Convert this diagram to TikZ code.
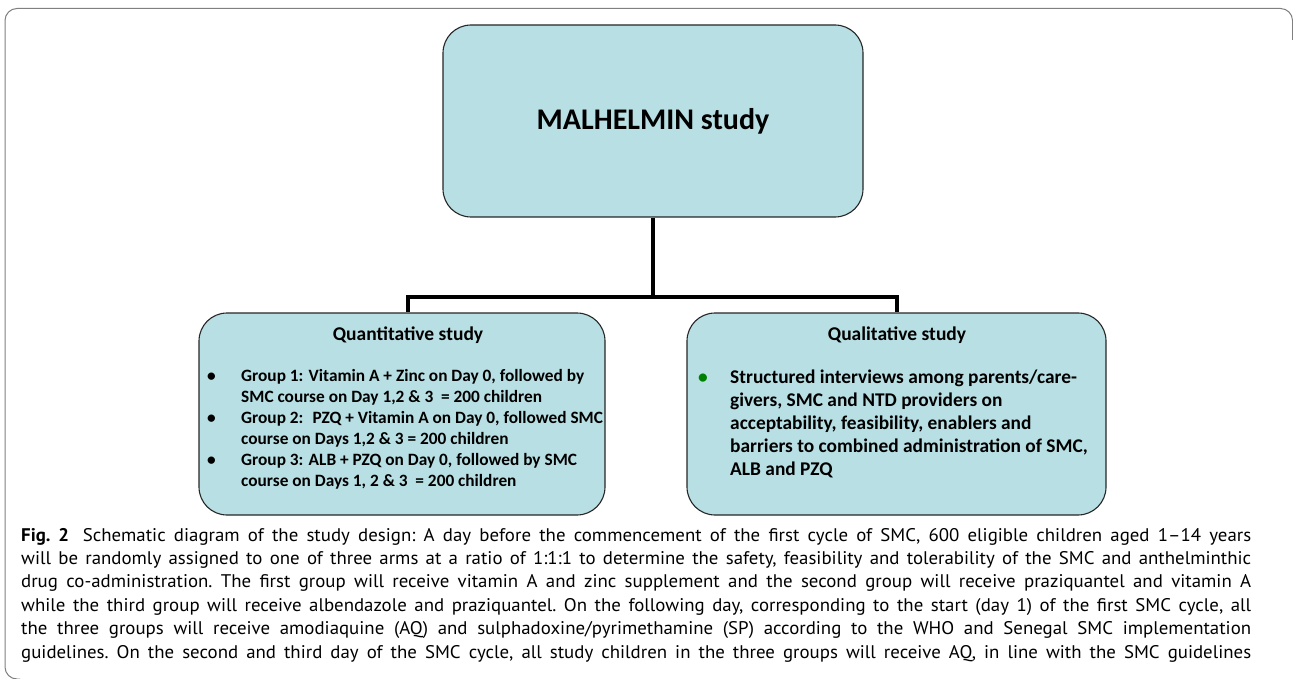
\documentclass[tikz,border=0pt]{standalone}
\usepackage{fontspec}
\setmainfont{Carlito}
\newfontfamily\capfont[FakeStretch=1.03]{PT Sans}
\usetikzlibrary{calc}
\definecolor{boxfill}{RGB}{184,223,227}
\definecolor{framecol}{RGB}{128,128,128}
\definecolor{bulgreen}{RGB}{0,128,0}
\newcommand{\capline}[1]{\makebox[1230pt][s]{#1}\par}
\tikzset{
  box/.style={draw=black!85, line width=1.1pt, fill=boxfill, rounded corners=28pt, inner sep=0pt},
  conn/.style={draw=black, line width=4pt},
  listtext/.style={anchor=base west, inner sep=0pt, font=\bfseries},
  head/.style={inner sep=0pt, font=\bfseries\fontsize{19.5}{22}\selectfont},
}
\begin{document}
\begin{tikzpicture}[x=1pt,y=-1pt]
\useasboundingbox (0,0) rectangle (1293,679);
% frame
\draw[framecol, line width=1pt, rounded corners=12pt] (20,679) -| (5,8.5) -| (1292.5,40);
% boxes
\node[box, minimum width=420pt, minimum height=192pt, font=\bfseries\fontsize{30}{34}\selectfont] (top) at (653,121) {MALHELMIN study};
\node[box, minimum width=406pt, minimum height=202pt] (left) at (402,414) {};
\node[box, minimum width=419pt, minimum height=202pt] (right) at (896.5,414) {};
% connectors
\coordinate (j) at (653,296.5);
\draw[conn] (top.south) -- (j);
\draw[conn] ([xshift=6pt]left.north) |- (j) -| (right.north);
% headers
\node[head] (hq) at (408,335) {Quantitative study};
\node[head] (hl) at (897,335) {Qualitative study};
% left list
\node[listtext] (ql) at (207,381) {\fontsize{17.3}{21}\selectfont
\begin{tabular}[t]{@{}p{34pt}@{}l@{}}
\textbullet & Group 1: Vitamin A + Zinc on Day 0, followed by\\
 & SMC course on Day 1,2 \& 3 \ = 200 children\\
\textbullet & Group 2: \ PZQ + Vitamin A on Day 0, followed SMC\\
 & course on Days 1,2 \& 3 = 200 children\\
\textbullet & Group 3: ALB + PZQ on Day 0, followed by SMC\\
 & course on Days 1, 2 \& 3 \ = 200 children
\end{tabular}};
% right list
\node[listtext] (qr) at (698,383) {\fontsize{19.4}{23.2}\selectfont
\begin{tabular}[t]{@{}p{32pt}@{}l@{}}
\textcolor{bulgreen}{\textbullet} & Structured interviews among parents/care-\\
 & givers, SMC and NTD providers on\\
 & acceptability, feasibility, enablers and\\
 & barriers to combined administration of SMC,\\
 & ALB and PZQ
\end{tabular}};
% caption
\node[anchor=base west, inner sep=0pt] (cap) at (21,541) {\parbox[t]{1230pt}{\capfont\fontsize{18.3}{23.4}\selectfont\frenchspacing\parindent=0pt
\capline{\textbf{Fig.~2}\hspace{0.3em} Schematic diagram of the study design: A day before the commencement of the first cycle of SMC, 600 eligible children aged 1–14 years}
\capline{will be randomly assigned to one of three arms at a ratio of 1:1:1 to determine the safety, feasibility and tolerability of the SMC and anthelminthic}
\capline{drug co-administration. The first group will receive vitamin A and zinc supplement and the second group will receive praziquantel and vitamin A}
\capline{while the third group will receive albendazole and praziquantel. On the following day, corresponding to the start (day 1) of the first SMC cycle, all}
\capline{the three groups will receive amodiaquine (AQ) and sulphadoxine/pyrimethamine (SP) according to the WHO and Senegal SMC implementation}
\capline{guidelines. On the second and third day of the SMC cycle, all study children in the three groups will receive AQ, in line with the SMC guidelines}}};
\end{tikzpicture}
\end{document}
